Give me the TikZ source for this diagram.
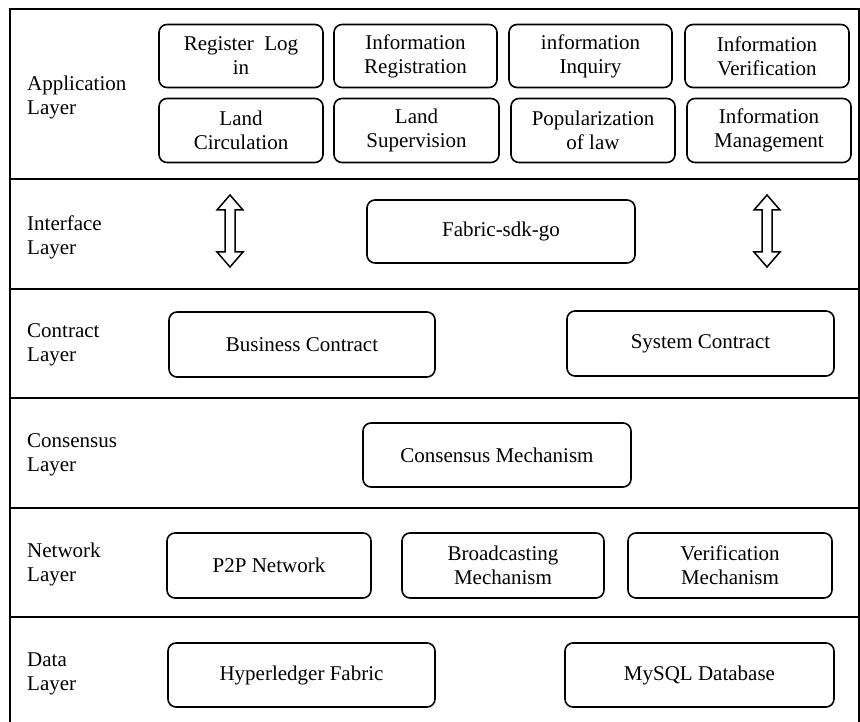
\documentclass[tikz,border=0pt]{standalone}
\usepackage{fontspec}
\setmainfont{Liberation Serif}
\tikzset{
    layerline/.style={line width=1.6pt},
    blk/.style={draw, line width=1.6pt, rounded corners=8pt, align=center, inner sep=0pt},
    lbl/.style={anchor=west, align=left, inner sep=0pt},
    dblarrow/.style={line width=1.5pt, line join=miter}
}
\begin{document}
\begin{tikzpicture}[x=1pt, y=-1pt, font=\fontsize{21}{24}\selectfont]
            \useasboundingbox (0,0) rectangle (860,722);
            % frame and layer borders
            \draw[layerline] (10,722) -- (10,9) -- (859,9) -- (859,722);
            \foreach \y in {179,289,398,508,617}
                \draw[layerline] (10,\y) -- (859,\y);
            % layer names
            \node[lbl] (app) at (27,97) {Application\\Layer};
            \node[lbl] (intf) at (27,237) {Interface\\Layer};
            \node[lbl] (contr) at (27,345) {Contract\\Layer};
            \node[lbl] (cons) at (27,455) {Consensus\\Layer};
            \node[lbl] (net) at (27,564) {Network\\Layer};
            \node[lbl] (data) at (27,674) {Data\\Layer};
            % application layer
            \node[blk, minimum width=164pt, minimum height=63pt] (reglog) at (241,56) {Register\ \ Log\\in};
            \node[blk, minimum width=163pt, minimum height=63pt] (inforeg) at (415.5,56) {Information\\Registration};
            \node[blk, minimum width=163pt, minimum height=63pt] (infoinq) at (590.5,56) {information\\Inquiry};
            \node[blk, minimum width=164pt, minimum height=63pt] (infover) at (767,56) {Information\\Verification};
            \node[blk, minimum width=164pt, minimum height=64pt] (landcirc) at (241,130.5) {Land\\Circulation};
            \node[blk, minimum width=165pt, minimum height=64pt] (landsup) at (416.5,130.5) {Land\\Supervision};
            \node[blk, minimum width=164pt, minimum height=64pt] (poplaw) at (593,130.5) {Popularization\\of law};
            \node[blk, minimum width=164pt, minimum height=64pt] (infoman) at (769,130.5) {Information\\Management};
            % interface layer
            \node[blk, minimum width=268pt, minimum height=63pt] (sdk) at (501,231.5) {Fabric-sdk-go};
            \foreach \c in {230,767}
                \draw[dblarrow] (\c,195) -- (\c+13,210) -- (\c+5,210) -- (\c+5,252) -- (\c+13,252) -- (\c,267)
                    -- (\c-13,252) -- (\c-5,252) -- (\c-5,210) -- (\c-13,210) -- cycle;
            % contract layer
            \node[blk, minimum width=266pt, minimum height=65pt] (buscon) at (302,344.5) {Business Contract};
            \node[blk, minimum width=267pt, minimum height=65pt] (syscon) at (700.5,343.5) {System Contract};
            % consensus layer
            \node[blk, minimum width=268pt, minimum height=64pt] (consmech) at (497,455) {Consensus Mechanism};
            % network layer
            \node[blk, minimum width=204pt, minimum height=65pt] (ptp) at (269,565.5) {P2P Network};
            \node[blk, minimum width=202pt, minimum height=65pt] (broad) at (503,565.5) {Broadcasting\\Mechanism};
            \node[blk, minimum width=204pt, minimum height=65pt] (vermech) at (730,565.5) {Verification\\Mechanism};
            % data layer
            \node[blk, minimum width=267pt, minimum height=64pt] (hyper) at (301.5,675) {Hyperledger Fabric};
            \node[blk, minimum width=269pt, minimum height=64pt] (mysql) at (699.5,675) {MySQL Database};
        \end{tikzpicture}
\end{document}
